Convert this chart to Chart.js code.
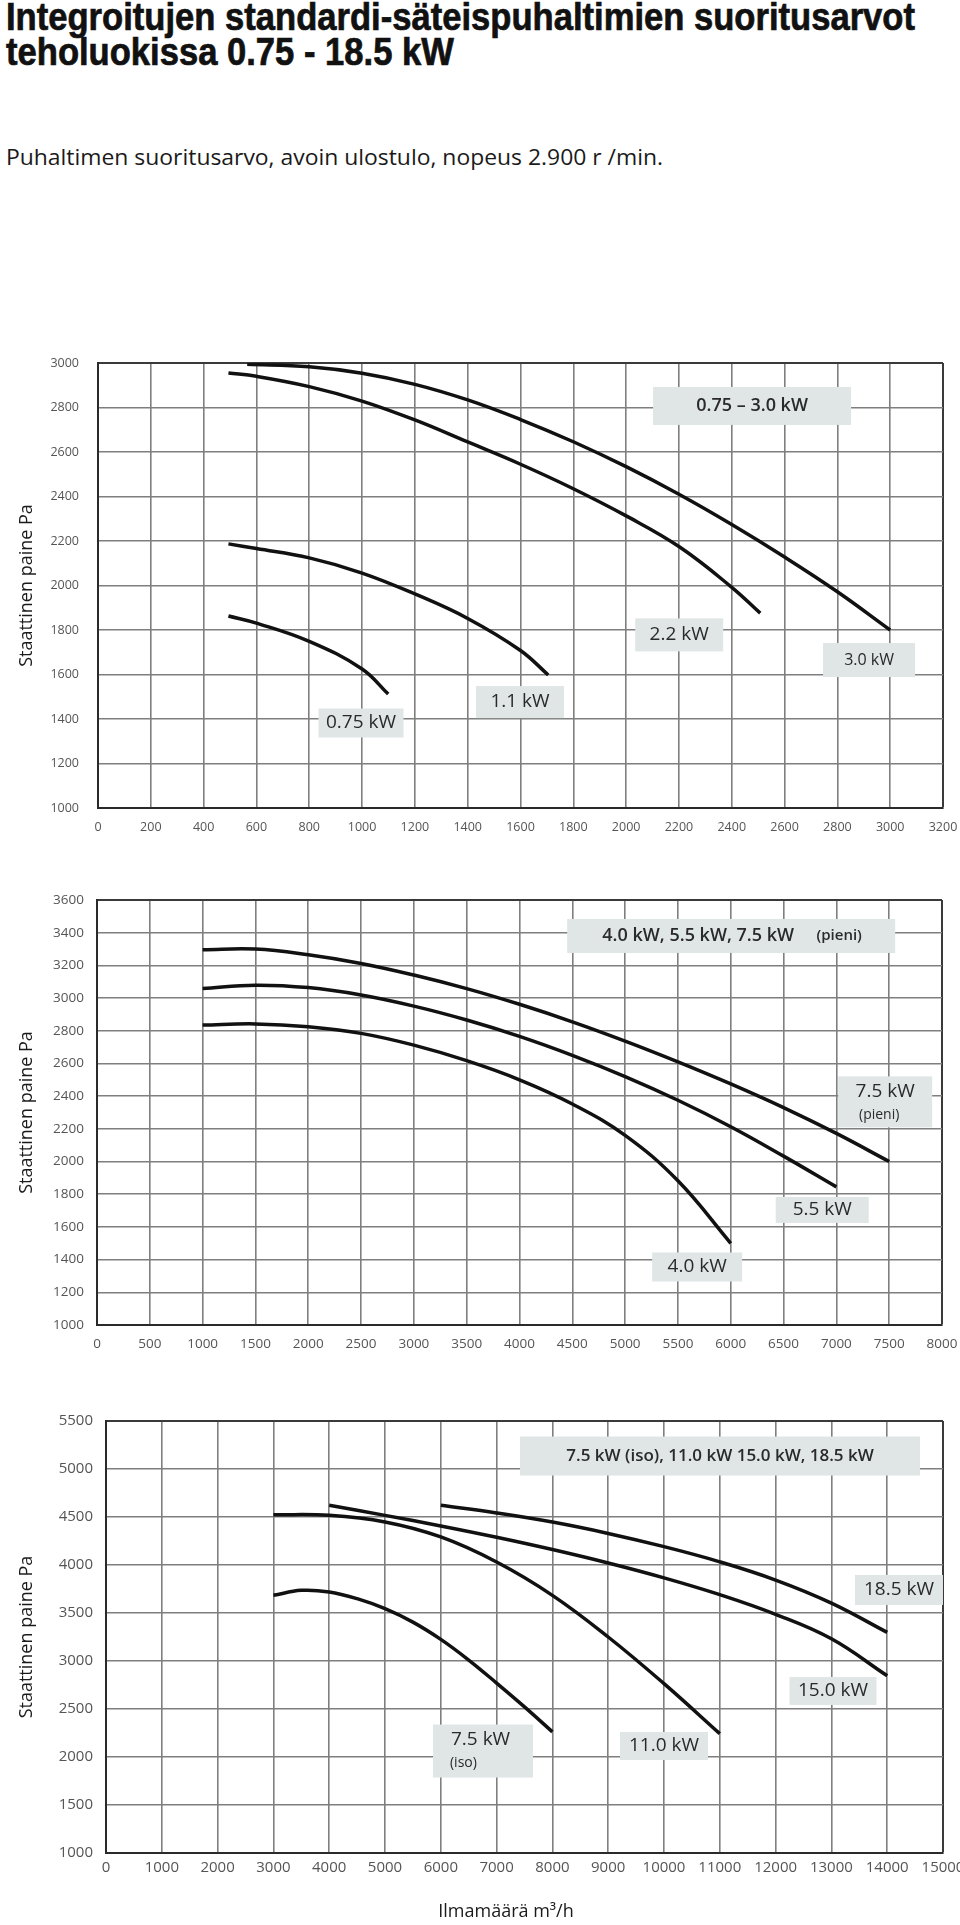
<!DOCTYPE html>
<html lang="fi">
<head>
<meta charset="utf-8">
<script src="https://cdn.jsdelivr.net/npm/chart.js@4.4.1/dist/chart.umd.min.js"></script>
<style>
body { margin: 0; background: #fff; }
#sivu { position: relative; width: 960px; height: 1925px; overflow: hidden; font-family: "Open Sans", sans-serif; color: #111; }
#otsikko { position: absolute; left: 6px; top: -1px; font-family: "Liberation Sans Narrow", "Liberation Sans", sans-serif; font-weight: bold; font-size: 39px; line-height: 35px; white-space: nowrap; transform-origin: 0 0; -webkit-text-stroke: 0.7px #111; }
#otsikko span { display: inline-block; }
#alaotsikko { position: absolute; left: 6px; top: 143px; font-size: 21px; white-space: nowrap; transform-origin: 0 0; color: #1a1a1a; }
#ilmamaara { position: absolute; left: 506px; top: 1898px; transform: translateX(-50%); font-size: 18px; line-height: 24px; color: #1a1a1a; white-space: nowrap; }
canvas { position: absolute; left: 0; }
</style>
</head>
<body>
<div id="sivu">
    <div id="otsikko"><span id="rivi1">Integroitujen standardi-säteispuhaltimien suoritusarvot</span><br><span>teholuokissa 0.75 - 18.5 kW</span></div>
    <div id="alaotsikko">Puhaltimen suoritusarvo, avoin ulostulo, nopeus 2.900 r /min.</div>
    <canvas id="kaavio1" width="960" height="500" style="top:340px"></canvas>
    <canvas id="kaavio2" width="960" height="480" style="top:880px"></canvas>
    <canvas id="kaavio3" width="960" height="525" style="top:1400px"></canvas>
    <div id="ilmamaara">Ilmamäärä m³/h</div>
</div>
<script>

// =========================
// DATA (ilmamäärä m3/h, staattinen paine Pa)
// =========================

// 0.75 - 3.0 kW
const ilma075 = [494, 600, 800, 1000, 1099];
const paine075 = [1863, 1831, 1749, 1625, 1512];

const ilma11 = [494, 600, 800, 1000, 1200, 1400, 1600, 1705];
const paine11 = [2187, 2166, 2124, 2056, 1962, 1852, 1708, 1598];

const ilma22 = [494, 600, 800, 1000, 1200, 1400, 1600, 1800, 2000, 2200, 2400, 2508];
const paine22 = [2955, 2940, 2894, 2829, 2744, 2645, 2545, 2435, 2313, 2175, 1992, 1876];

const ilma30 = [565, 800, 1000, 1200, 1400, 1600, 1800, 2000, 2200, 2400, 2600, 2800, 3000];
const paine30 = [2994, 2983, 2954, 2904, 2834, 2746, 2646, 2534, 2410, 2274, 2128, 1972, 1800];

// 4.0 kW, 5.5 kW, 7.5 kW (pieni)
const ilma40 = [1000, 1500, 2000, 2500, 3000, 3500, 4000, 4500, 5000, 5500, 6000];
const paine40 = [2835, 2842, 2825, 2784, 2712, 2617, 2500, 2352, 2160, 1882, 1500];

const ilma55 = [1000, 1500, 2000, 2500, 3000, 3500, 4000, 4500, 5000, 5500, 6000, 6500, 7000];
const paine55 = [3059, 3079, 3064, 3019, 2951, 2866, 2766, 2650, 2520, 2375, 2213, 2033, 1845];

const ilma75p = [1000, 1500, 2000, 2500, 3000, 3500, 4000, 4500, 5000, 5500, 6000, 6500, 7000, 7500];
const paine75p = [3296, 3300, 3265, 3212, 3141, 3058, 2962, 2855, 2737, 2610, 2475, 2330, 2172, 2000];

// 7.5 kW (iso), 11.0 kW, 15.0 kW, 18.5 kW
const ilma75i = [3000, 3500, 4000, 4500, 5000, 5500, 6000, 6500, 7000, 7500, 8000];
const paine75i = [3684, 3736, 3719, 3649, 3545, 3405, 3225, 3010, 2770, 2522, 2262];

const ilma110 = [3000, 4000, 5000, 6000, 7000, 8000, 9000, 10000, 11000];
const paine110 = [4524, 4517, 4448, 4292, 4031, 3684, 3250, 2764, 2243];

const ilma150 = [4000, 5000, 6000, 7000, 8000, 9000, 10000, 11000, 12000, 13000, 14000];
const paine150 = [4622, 4517, 4407, 4289, 4161, 4021, 3866, 3691, 3486, 3231, 2846];

const ilma185 = [6000, 7000, 8000, 9000, 10000, 11000, 12000, 13000, 14000];
const paine185 = [4622, 4542, 4447, 4329, 4191, 4033, 3843, 3603, 3298];

// asteikot [min, max, väli]
const xAsteikko1 = [0, 3200, 200];
const yAsteikko1 = [1000, 3000, 200];
const xAsteikko2 = [0, 8000, 500];
const yAsteikko2 = [1000, 3600, 200];
const xAsteikko3 = [0, 15000, 1000];
const yAsteikko3 = [1000, 5500, 500];

// =========================
// TEKSTILAATIKOT
// =========================

const laatikot = {
    id: 'laatikot',
    beforeDatasetsDraw(chart, args, opts) {
        const { ctx, scales: { x, y } } = chart;
        (opts.items || []).forEach(b => {
            const cx = x.getPixelForValue(b.x);
            const cy = y.getPixelForValue(b.y);
            ctx.save();
            ctx.fillStyle = '#dfe6e5';
            ctx.fillRect(cx - b.w / 2, cy - b.h / 2, b.w, b.h);
            ctx.fillStyle = '#2a2a2a';
            ctx.textBaseline = 'middle';
            b.rivit.forEach(r => {
                ctx.font = r.font;
                ctx.textAlign = r.align || 'center';
                ctx.fillText(r.t, cx + (r.dx || 0), cy + (r.dy || 0));
            });
            ctx.restore();
        });
    }
};

const lihava = '600 18px "Open Sans"';
const normaali = '19px "Open Sans"';

// =========================
// KAAVIOT
// =========================

function sarja(ilma, paine) {
    return {
        data: ilma.map((v, i) => ({ x: v, y: paine[i] })),
        borderColor: '#111',
        borderWidth: 3.5,
        pointRadius: 0,
        tension: 0.4,
        fill: false
    };
}

function teeKaavio(id, sarjat, xa, ya, a) {

    const ruudukko = max => ({
        color: c => (c.tick && c.tick.value === max) ? '#3a3a3a' : '#7f7f7f',
        lineWidth: c => (c.tick && c.tick.value === max) ? 2 : 1.6,
        drawTicks: false
    });

    return new Chart(document.getElementById(id), {
        type: 'line',
        data: { datasets: sarjat },
        plugins: [laatikot],
        options: {
            responsive: false,
            animation: false,
            layout: { padding: { top: a.top, right: a.right, left: 0, bottom: 0 } },
            plugins: {
                legend: { display: false },
                tooltip: { enabled: false },
                laatikot: { items: a.laatikot }
            },
            scales: {
                x: {
                    type: 'linear',
                    min: xa[0], max: xa[1],
                    grid: ruudukko(xa[1]),
                    border: { color: '#2a2a2a', width: 2 },
                    ticks: {
                        stepSize: xa[2],
                        autoSkip: false,
                        maxRotation: 0,
                        padding: a.xPad,
                        color: '#555',
                        font: { family: 'Open Sans', size: a.tick },
                        callback: v => String(v)
                    },
                    afterFit: s => { s.height = a.xKorkeus; s.paddingLeft = 0; s.paddingRight = 0; }
                },
                y: {
                    min: ya[0], max: ya[1],
                    grid: ruudukko(ya[1]),
                    border: { color: '#2a2a2a', width: 2 },
                    ticks: {
                        stepSize: ya[2],
                        padding: a.yPad,
                        color: '#555',
                        font: { family: 'Open Sans', size: a.tick },
                        callback: v => String(v)
                    },
                    title: {
                        display: true,
                        text: 'Staattinen paine Pa',
                        color: '#1a1a1a',
                        font: { family: 'Open Sans', size: 18 },
                        padding: { top: 16, bottom: 0 }
                    },
                    afterFit: s => { s.width = a.yLeveys; s.paddingTop = 0; s.paddingBottom = 0; }
                }
            }
        }
    });
}

teeKaavio('kaavio1',
    [sarja(ilma075, paine075), sarja(ilma11, paine11), sarja(ilma22, paine22), sarja(ilma30, paine30)],
    xAsteikko1, yAsteikko1,
    {
        top: 23, right: 17, xKorkeus: 32, yLeveys: 98, xPad: 11.5, yPad: 19, tick: 12.5,
        laatikot: [
            { x: 2477, y: 2807, w: 198, h: 38, rivit: [{ t: '0.75 – 3.0 kW', font: lihava }] },
            { x: 2201, y: 1778, w: 88, h: 33, rivit: [{ t: '2.2 kW', font: normaali }] },
            { x: 2920, y: 1665, w: 92, h: 34, rivit: [{ t: '3.0 kW', font: '16px "Open Sans"' }] },
            { x: 1598, y: 1476, w: 88, h: 32, rivit: [{ t: '1.1 kW', font: normaali }] },
            { x: 996, y: 1382, w: 85, h: 29, rivit: [{ t: '0.75 kW', font: normaali }] }
        ]
    });

teeKaavio('kaavio2',
    [sarja(ilma40, paine40), sarja(ilma55, paine55), sarja(ilma75p, paine75p)],
    xAsteikko2, yAsteikko2,
    {
        top: 20, right: 18, xKorkeus: 35, yLeveys: 97, xPad: 11, yPad: 13, tick: 13.5,
        laatikot: [
            { x: 6004, y: 3380, w: 328, h: 34, rivit: [
                { t: '4.0 kW, 5.5 kW, 7.5 kW', font: lihava, dx: -33 },
                { t: '(pieni)', font: '600 15px "Open Sans"', dx: 108 }
            ] },
            { x: 7462, y: 2365, w: 94, h: 51, rivit: [
                { t: '7.5 kW', font: normaali, dy: -10 },
                { t: '(pieni)', font: '14px "Open Sans"', dx: -6, dy: 13 }
            ] },
            { x: 6866, y: 1704, w: 93, h: 26, rivit: [{ t: '5.5 kW', font: normaali }] },
            { x: 5682, y: 1355, w: 90, h: 29, rivit: [{ t: '4.0 kW', font: normaali }] }
        ]
    });

teeKaavio('kaavio3',
    [sarja(ilma75i, paine75i), sarja(ilma110, paine110), sarja(ilma150, paine150), sarja(ilma185, paine185)],
    xAsteikko3, yAsteikko3,
    {
        top: 21, right: 17, xKorkeus: 72, yLeveys: 106, xPad: 6, yPad: 13, tick: 15,
        laatikot: [
            { x: 11004, y: 5135, w: 400, h: 39, rivit: [{ t: '7.5 kW (iso), 11.0 kW 15.0 kW, 18.5 kW', font: '600 17px "Open Sans"' }] },
            { x: 14211, y: 3740, w: 88, h: 30, rivit: [{ t: '18.5 kW', font: normaali }] },
            { x: 13029, y: 2688, w: 87, h: 28, rivit: [{ t: '15.0 kW', font: normaali }] },
            { x: 10000, y: 2115, w: 88, h: 28, rivit: [{ t: '11.0 kW', font: normaali }] },
            { x: 6756, y: 2062, w: 100, h: 53, rivit: [
                { t: '7.5 kW', font: normaali, align: 'left', dx: -32, dy: -11 },
                { t: '(iso)', font: '14px "Open Sans"', align: 'left', dx: -33, dy: 12 }
            ] }
        ]
    });

// =========================
// OTSIKOIDEN LEVEYS
// =========================

function sovita(el, leveys) {
    const w = el.getBoundingClientRect().width;
    return leveys / w;
}

const kerroin = sovita(document.getElementById('rivi1'), 909);
document.getElementById('otsikko').style.transform = 'scaleX(' + kerroin + ')';

const ala = document.getElementById('alaotsikko');
ala.style.transform = 'scaleX(' + sovita(ala, 657) + ')';

</script>
</body>
</html>
